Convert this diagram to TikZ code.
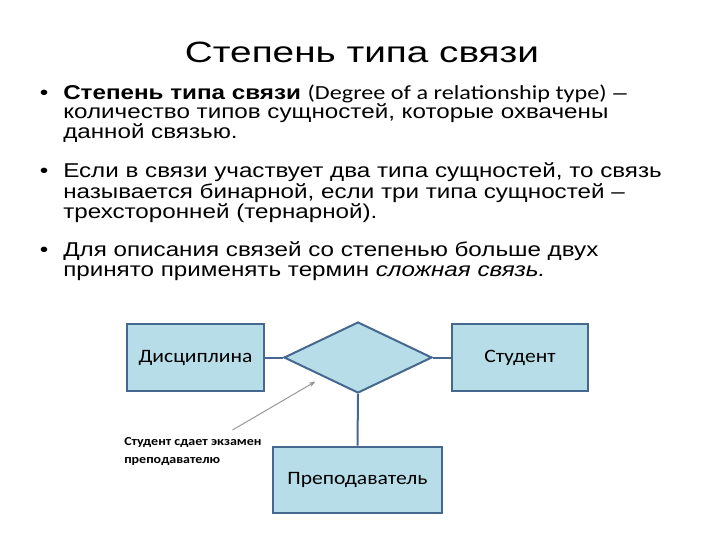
\documentclass[tikz,border=0pt]{standalone}
\usepackage{fontspec}
\setmainfont{Liberation Sans}[FakeStretch=1.21]
\newfontfamily\titlefont{Liberation Sans}[FakeStretch=1.32]
\newfontfamily\calfont{Carlito}[FakeStretch=1.21]
\newfontfamily\labelfont{Carlito}[FakeStretch=1.14]
\usetikzlibrary{arrows.meta, shapes.geometric}
\definecolor{entfill}{HTML}{B7DDE8}
\definecolor{entline}{HTML}{46688F}

\begin{document}
\begin{tikzpicture}[x=0.75pt, y=-0.75pt,
    line/.style={anchor=base west, inner sep=0pt, font=\fontsize{15}{16.5}\selectfont},
    bul/.style={anchor=base, inner sep=0pt, font=\fontsize{15}{16.5}\selectfont},
    ent/.style={draw=entline, fill=entfill, line width=1.5pt, minimum height=50pt,
                inner sep=0pt, font=\labelfont\fontsize{14.2}{16}\selectfont},
    rel/.style={diamond, draw=entline, fill=entfill, line width=1.5pt, inner sep=0pt,
                minimum width=111pt, minimum height=53.25pt},
    conn/.style={draw=entline, line width=1.5pt},
    note/.style={anchor=base west, inner sep=0pt, font=\labelfont\bfseries\fontsize{9.2}{10}\selectfont}]
  \useasboundingbox[fill=white] (0,0) rectangle (720,540);

  % title
  \node[anchor=base, inner sep=0pt, font=\titlefont\fontsize{22}{26}\selectfont] (title) at (362,62.5) {Степень типа связи};

  % bullets
  \node[bul] (b1) at (44,99) {•};
  \node[line] (l1) at (63,99) {\textbf{Степень типа связи} {\calfont (Degree of a relationship type)} –};
  \node[line] (l2) at (63,118.5) {количество типов сущностей, которые охвачены};
  \node[line] (l3) at (63,138) {данной связью.};
  \node[bul] (b2) at (44,177.5) {•};
  \node[line] (l4) at (63,177.5) {Если в связи участвует два типа сущностей, то связь};
  \node[line] (l5) at (63,198) {называется бинарной, если три типа сущностей –};
  \node[line] (l6) at (63,218.5) {трехсторонней (тернарной).};
  \node[bul] (b3) at (44,256) {•};
  \node[line] (l7) at (63,256) {Для описания связей со степенью больше двух};
  \node[line] (l8) at (63,276) {принято применять термин \textit{сложная связь.}};

  % ER diagram
  \node[ent, minimum width=102.75pt] (disc) at (195.5,357.5) {Дисциплина};
  \node[rel] (exam) at (358,357.5) {};
  \node[ent, minimum width=102pt] (stud) at (520,357.5) {Студент};
  \node[ent, minimum width=126.75pt] (prep) at (357.5,480) {Преподаватель};

  \draw[conn] (disc) -- (exam);
  \draw[conn] (exam) -- (stud);
  \draw[conn] (exam) -- (prep);

  % note
  \node[note] (note1) at (124,445) {Студент сдает экзамен};
  \node[note] (note2) at (124,463.5) {преподавателю};
  \coordinate (tail) at (232.5,430);
  \coordinate (tip) at (315.5,381.5);
  \draw[gray!85, line width=0.7pt, -{Stealth[length=5pt, width=3.5pt]}] (tail) -- (tip);
\end{tikzpicture}
\end{document}
